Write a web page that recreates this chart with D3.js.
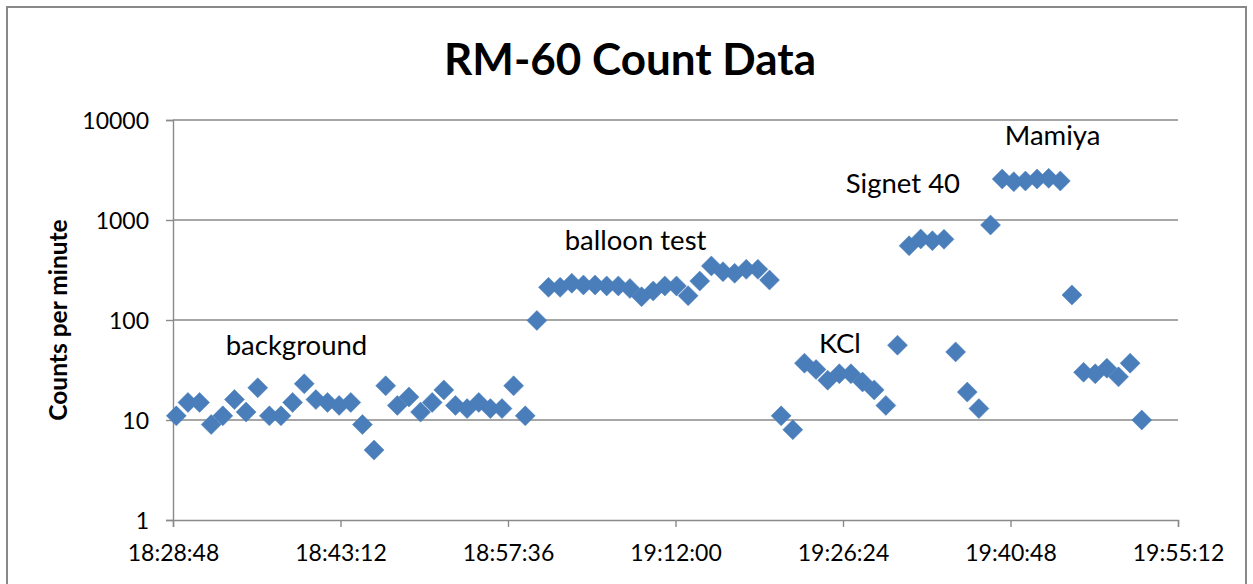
<!DOCTYPE html>
<html>
<head>
<meta charset="utf-8">
<script src="https://cdn.jsdelivr.net/npm/d3@7"></script>
<style>
  html, body { margin: 0; padding: 0; background: #fff; }
  svg { display: block; }
  text { font-family: Lato, "Open Sans", sans-serif; fill: #000; }
</style>
</head>
<body>
<svg id="chart" width="1253" height="584"></svg>
<script>
// ---- Data ----
const startTime = "18:29:05";          // time of first reading
const intervalMinutes = 1;             // one reading per minute
const counts = [
  11, 15, 15, 9, 11, 16, 12, 21, 11, 11, 15, 23, 16, 15, 14, 15, 9, 5, 22, 14,
  17, 12, 15, 20, 14, 13, 15, 13, 13, 22, 11,
  99,
  212, 212, 233, 224, 224, 219, 219, 207, 171, 195, 219, 219, 175, 245, 347, 304, 293, 321, 321, 251,
  11, 8, 37, 32, 25, 29, 29, 24, 20, 14, 56,
  553, 646, 621, 641,
  48, 19, 13,
  891,
  2570, 2415, 2455, 2570, 2610, 2455,
  178,
  30, 29, 33, 27, 37, 10
];
const xDomain = ["18:28:48", "19:55:12"];
const xTickStepSeconds = 864;
const yTicks = [1, 10, 100, 1000, 10000];
const labels = ["background", "balloon test", "KCl", "Signet 40", "Mamiya"];
const labelTimes = ["18:39:25", "19:08:34", "19:26:08", "19:31:33", "19:44:25"];
const labelCounts = [44.7, 501, 46.8, 1862, 5623];
const title = "RM-60 Count Data";
const yTitle = "Counts per minute";

// ---- Helpers ----
const parseT = s => d3.utcParse("%H:%M:%S")(s);
const fmtT = d3.utcFormat("%H:%M:%S");
const t0 = parseT(startTime);
const points = counts.map((v, i) => ({ t: new Date(t0.getTime() + i * intervalMinutes * 60000), v }));

const svg = d3.select("#chart");
const plot = { left: 173, right: 1178, top: 120, bottom: 520 };

// outer chart border
svg.append("rect")
  .attr("x", 7).attr("y", 7).attr("width", 1239).attr("height", 600)
  .attr("fill", "#fff").attr("stroke", "#888").attr("stroke-width", 2);

const x = d3.scaleUtc()
  .domain(xDomain.map(parseT))
  .range([plot.left, plot.right]);
const y = d3.scaleLog()
  .domain([1, 10000])
  .range([plot.bottom, plot.top]);

const d0 = parseT(xDomain[0]).getTime(), d1 = parseT(xDomain[1]).getTime();
const xTickVals = d3.range(d0, d1 + 1, xTickStepSeconds * 1000).map(ms => new Date(ms));

// gridlines
svg.append("g")
  .selectAll("line")
  .data(yTicks.slice(1))
  .join("line")
  .attr("x1", plot.left).attr("x2", plot.right)
  .attr("y1", d => y(d)).attr("y2", d => y(d))
  .attr("stroke", "#8a8a8a").attr("stroke-width", 1.4);

// y axis
const yAxis = svg.append("g")
  .attr("transform", `translate(${plot.left},0)`)
  .call(d3.axisLeft(y).tickValues(yTicks).tickFormat(d3.format("d")).tickSize(7).tickPadding(17));
yAxis.select(".domain").attr("stroke", "#8a8a8a").attr("stroke-width", 1.4);
yAxis.selectAll(".tick line").attr("stroke", "#8a8a8a").attr("stroke-width", 1.4);
yAxis.selectAll(".tick text").style("font-size", "23px").attr("dy", "0.35em").attr("fill", "#000");

// x axis
const xAxis = svg.append("g")
  .attr("transform", `translate(0,${plot.bottom})`)
  .call(d3.axisBottom(x).tickValues(xTickVals).tickFormat(fmtT).tickSize(7).tickPadding(18));
xAxis.select(".domain").attr("stroke", "#8a8a8a").attr("stroke-width", 1.4);
xAxis.selectAll(".tick line").attr("stroke", "#8a8a8a").attr("stroke-width", 1.4);
xAxis.selectAll(".tick text").style("font-size", "23px").attr("fill", "#000");

// markers (diamonds)
const half = 10;
svg.append("g")
  .selectAll("path")
  .data(points)
  .join("path")
  .attr("transform", d => `translate(${x(d.t)},${y(d.v)})`)
  .attr("d", `M0,${-half}L${half},0L0,${half}L${-half},0Z`)
  .attr("fill", "#4a7ebb")
  .attr("stroke", "#4a7ebb")
  .attr("stroke-width", 0.5);

// annotations
svg.append("g")
  .selectAll("text")
  .data(labels.map((s, i) => ({ s, t: parseT(labelTimes[i]), v: labelCounts[i] })))
  .join("text")
  .attr("x", d => x(d.t)).attr("y", d => y(d.v))
  .attr("text-anchor", "middle")
  .style("font-size", "27.5px")
  .text(d => d.s);

// title
svg.append("text")
  .attr("x", 630).attr("y", 75)
  .attr("text-anchor", "middle")
  .style("font-size", "44px").style("font-weight", "bold")
  .text(title);

// y axis title
svg.append("text")
  .attr("transform", `translate(67,320) rotate(-90)`)
  .attr("text-anchor", "middle")
  .style("font-size", "24.5px").style("font-weight", "bold")
  .text(yTitle);
</script>
</body>
</html>
